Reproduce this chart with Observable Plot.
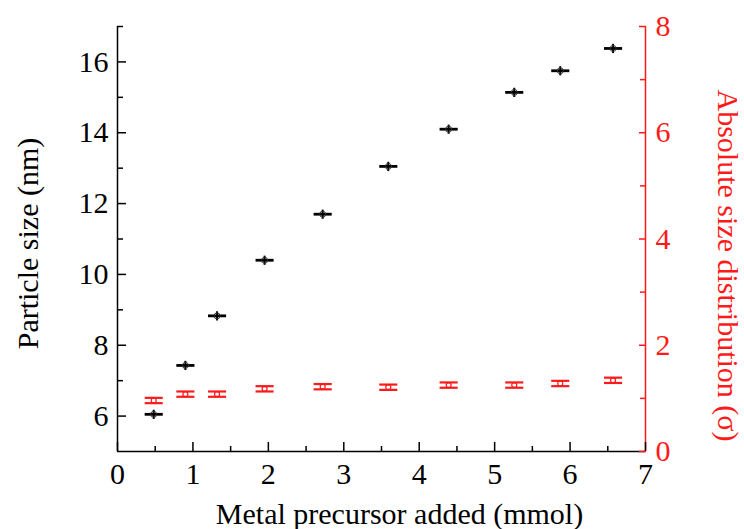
<!DOCTYPE html>
<html>
<head>
<meta charset="utf-8">
<script src="https://cdn.jsdelivr.net/npm/d3@7"></script>
<script src="https://cdn.jsdelivr.net/npm/@observablehq/plot@0.6"></script>
<style>
  body { margin: 0; background: #fff; }
</style>
</head>
<body>
<div id="chart"></div>
<script>
// Metal precursor added (mmol)
const amount = [0.48, 0.90, 1.32, 1.95, 2.72, 3.59, 4.39, 5.26, 5.87, 6.57];
// Mean particle size (nm), left axis
const size = [6.05, 7.43, 8.83, 10.40, 11.70, 13.05, 14.10, 15.14, 15.75, 16.38];
// Absolute size distribution sigma, right axis
const sigma = [0.96, 1.08, 1.08, 1.18, 1.22, 1.21, 1.25, 1.25, 1.28, 1.34];
// Error estimates
const amountErr = 0.12;
const sizeErr = 0.13;
const sigmaErr = 0.05;

// Axis domains and ticks
const xTicks = [0, 1, 2, 3, 4, 5, 6, 7];
const xMinor = [0.5, 1.5, 2.5, 3.5, 4.5, 5.5, 6.5];
const sizeDomain = [5, 17];
const sizeTicks = [6, 8, 10, 12, 14, 16];
const sizeMinor = [7, 9, 11, 13, 15, 17];
const sigmaDomain = [0, 8];
const sigmaTicks = [0, 2, 4, 6, 8];
const sigmaMinor = [1, 3, 5, 7];

const RED = "#ff1a1a";
const FONT = "Liberation Serif";
const FS = 30;

// The right axis shares the left y scale through a linear mapping
const k = (sizeDomain[1] - sizeDomain[0]) / (sigmaDomain[1] - sigmaDomain[0]);
const toLeft = s => sizeDomain[0] + (s - sigmaDomain[0]) * k;
const fromLeft = v => sigmaDomain[0] + (v - sizeDomain[0]) / k;

const rows = amount.map((x, i) => ({x, size: size[i], sigma: sigma[i]}));

const chart = Plot.plot({
  width: 744,
  height: 529,
  marginLeft: 117,
  marginRight: 99,
  marginTop: 26,
  marginBottom: 78,
  style: {fontFamily: FONT, background: "white", color: "black"},
  x: {domain: [0, 7]},
  y: {domain: sizeDomain},
  marks: [
    // frame lines
    Plot.ruleX([0], {stroke: "black", strokeWidth: 1.5}),
    Plot.ruleY([sizeDomain[0]], {stroke: "black", strokeWidth: 1.5}),
    Plot.ruleX([7], {stroke: RED, strokeWidth: 1.5}),

    // bottom axis: inward ticks and labels
    Plot.axisX({ticks: xTicks, tickSize: -9, text: null, strokeWidth: 1.5, label: null}),
    Plot.axisX({ticks: xMinor, tickSize: -5, text: null, strokeWidth: 1.5, label: null}),
    Plot.axisX({ticks: xTicks, tickSize: 0, tickPadding: 11, fontSize: FS, tickFormat: d => d, label: null}),

    // left axis
    Plot.axisY({ticks: sizeTicks, tickSize: -9, text: null, strokeWidth: 1.5, label: null}),
    Plot.axisY({ticks: sizeMinor, tickSize: -6, text: null, strokeWidth: 1.5, label: null}),
    Plot.axisY({ticks: sizeTicks, tickSize: 0, tickPadding: 9, fontSize: FS, tickFormat: d => d, label: null}),

    // right axis in red
    Plot.axisY({anchor: "right", ticks: sigmaTicks.map(toLeft), tickSize: -7, text: null, stroke: RED, strokeWidth: 1.5, label: null}),
    Plot.axisY({anchor: "right", ticks: sigmaMinor.map(toLeft), tickSize: -6, text: null, stroke: RED, strokeWidth: 1.5, label: null}),
    Plot.axisY({anchor: "right", ticks: sigmaTicks.map(toLeft), tickSize: 0, tickPadding: 10, fontSize: FS, fill: RED,
      tickFormat: d => Math.round(fromLeft(d)), label: null}),

    // axis titles
    Plot.text(["Metal precursor added (mmol)"], {frameAnchor: "bottom", textAnchor: "middle", dx: 18, dy: 72, fontSize: FS, lineAnchor: "bottom", fill: "black"}),
    Plot.text(["Particle size (nm)"], {frameAnchor: "left", textAnchor: "middle", dx: -89, dy: 4.5, rotate: -90, fontSize: FS, fill: "black"}),
    Plot.text(["Absolute size distribution (σ)"], {frameAnchor: "right", textAnchor: "middle", dx: 82, dy: 26.5, rotate: 90, fontSize: FS, fill: RED}),

    // particle size: x and y error bars with hollow markers
    Plot.link(rows, {x1: d => d.x - amountErr, x2: d => d.x + amountErr, y1: "size", y2: "size", stroke: "black", strokeWidth: 2.8}),
    Plot.link(rows, {x1: "x", x2: "x", y1: d => d.size - sizeErr, y2: d => d.size + sizeErr, stroke: "black", strokeWidth: 2}),
    Plot.dot(rows, {x: "x", y: "size", r: 3, stroke: "#333", strokeWidth: 1, fill: "none"}),

    // size distribution: capped error bars on the right scale
    Plot.link(rows, {x1: d => d.x - amountErr, x2: d => d.x + amountErr, y1: d => toLeft(d.sigma + sigmaErr), y2: d => toLeft(d.sigma + sigmaErr), stroke: RED, strokeWidth: 2.2}),
    Plot.link(rows, {x1: d => d.x - amountErr, x2: d => d.x + amountErr, y1: d => toLeft(d.sigma - sigmaErr), y2: d => toLeft(d.sigma - sigmaErr), stroke: RED, strokeWidth: 2.2}),
    Plot.dot(rows, {x: "x", y: d => toLeft(d.sigma), r: 2.5, stroke: RED, strokeWidth: 1.2, fill: "none"})
  ]
});

document.getElementById("chart").append(chart);
</script>
</body>
</html>
